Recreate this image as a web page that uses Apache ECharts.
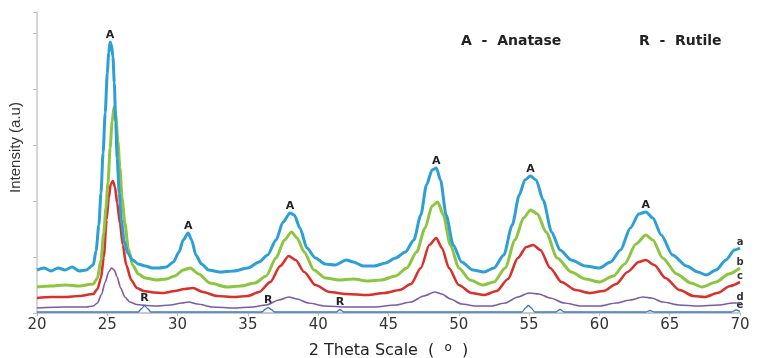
<!DOCTYPE html>
<html>
<head>
<meta charset="utf-8">
<title>XRD patterns</title>
<script src="https://cdn.jsdelivr.net/npm/echarts@6/dist/echarts.min.js"></script>
<style>
  html, body { margin: 0; padding: 0; background: #fff; }
  #chart { width: 757px; height: 358px; }
</style>
</head>
<body>
<div id="chart"></div>
<script>
// Diffraction patterns, [2θ (°), intensity (counts)]
const sampleA = [
  [20, 430], [20.5, 450], [21, 420], [21.5, 450], [22, 430], [22.5, 460], [23, 420], [23.5, 430],
  [24.0, 480], [24.2, 620], [24.4, 880], [24.55, 1200], [24.7, 1600], [24.85, 2000], [25.0, 2400],
  [25.1, 2600], [25.2, 2710], [25.3, 2680], [25.4, 2560], [25.5, 2300], [25.6, 1900], [25.7, 1550],
  [25.85, 1200], [26.0, 930], [26.2, 720], [26.45, 600], [26.8, 530], [27.2, 490],
  [27.7, 470], [28.2, 450], [28.7, 450], [29.2, 460], [29.7, 510], [30.1, 610], [30.4, 730],
  [30.75, 800], [31.0, 730], [31.3, 580], [31.7, 490], [32.2, 430], [33, 410], [34, 420],
  [35, 450], [35.8, 510], [36.4, 580], [37, 730], [37.5, 910], [38.0, 1000], [38.3, 980],
  [38.7, 850], [39.2, 650], [39.8, 550], [40.5, 490], [41.2, 480], [42, 530], [42.5, 510],
  [43.2, 470], [44, 470], [44.8, 500], [45.5, 550], [46.2, 610], [46.8, 730], [47.3, 980],
  [47.7, 1280], [48.1, 1430], [48.4, 1450], [48.7, 1330], [49.1, 980], [49.6, 680], [50.2, 510],
  [51, 430], [51.8, 410], [52.5, 450], [53.2, 580], [53.8, 880], [54.3, 1180], [54.7, 1330],
  [55.1, 1370], [55.5, 1330], [56.0, 1130], [56.6, 810], [57.2, 630], [58, 530], [59, 470],
  [60, 450], [60.8, 510], [61.5, 630], [62.2, 850], [62.8, 990], [63.3, 1010], [63.8, 950],
  [64.4, 780], [65.2, 580], [66.2, 470], [67, 410], [67.6, 380], [68.3, 430], [69, 530],
  [69.6, 630], [70, 650]
];
const sampleB = [
  [20, 260], [21, 270], [22, 280], [23, 270], [24.0, 290], [24.3, 350], [24.55, 530], [24.75, 800],
  [24.9, 1050], [25.05, 1300], [25.2, 1650], [25.35, 1920], [25.48, 2060], [25.6, 1980],
  [25.75, 1720], [25.9, 1450], [26.05, 1150], [26.25, 900], [26.5, 640], [26.8, 480], [27.2, 390],
  [27.7, 350], [28.5, 330], [29.2, 340], [29.8, 370], [30.4, 430], [30.9, 450], [31.5, 390], [32.3, 300],
  [33.5, 260], [34.5, 270], [35.5, 300], [36.3, 370], [37, 550], [37.6, 730], [38.1, 810],
  [38.5, 750], [39, 610], [39.7, 430], [40.5, 350], [41.5, 330], [42.5, 340], [43.5, 320],
  [44.5, 330], [45.5, 370], [46.3, 450], [47, 610], [47.6, 850], [48.1, 1070], [48.5, 1110],
  [48.9, 980], [49.4, 680], [50, 450], [50.8, 330], [51.7, 280], [52.5, 310], [53.3, 450],
  [54, 730], [54.6, 950], [55.1, 1030], [55.6, 990], [56.2, 810], [57, 550], [58, 410],
  [59, 340], [60, 310], [61, 370], [61.8, 490], [62.6, 690], [63.3, 780], [63.8, 730],
  [64.5, 550], [65.5, 390], [66.5, 300], [67.3, 260], [68.3, 310], [69.2, 390], [70, 450]
];
const sampleC = [
  [20, 150], [21, 160], [22, 160], [23, 170], [24.0, 190], [24.3, 240], [24.55, 350], [24.75, 560],
  [24.95, 930], [25.1, 1150], [25.25, 1290], [25.4, 1320], [25.55, 1260], [25.7, 1100], [25.9, 900],
  [26.1, 680], [26.35, 480], [26.7, 330], [27.1, 250], [27.6, 220],
  [28.3, 205], [29, 200], [29.8, 220], [30.5, 240], [31.1, 250], [31.8, 210], [32.8, 170],
  [34, 160], [35, 170], [35.8, 210], [36.6, 310], [37.3, 470], [37.9, 570], [38.4, 530],
  [39, 410], [39.8, 280], [40.8, 210], [42, 190], [43.5, 180], [44.7, 200], [45.8, 230],
  [46.6, 290], [47.3, 450], [47.9, 680], [48.4, 750], [48.8, 650], [49.3, 450], [50, 280],
  [50.9, 200], [51.8, 180], [52.7, 220], [53.5, 340], [54.2, 550], [54.8, 660], [55.3, 680],
  [55.8, 630], [56.5, 450], [57.3, 310], [58.3, 230], [59.3, 200], [60.3, 220], [61.2, 290],
  [62, 410], [62.8, 510], [63.3, 530], [63.9, 480], [64.7, 350], [65.7, 230], [66.7, 170],
  [67.5, 160], [68.4, 200], [69.3, 270], [70, 310]
];
const sampleD = [
  [20, 50], [22, 60], [23.5, 60], [24.0, 70], [24.3, 100], [24.6, 190], [24.85, 310], [25.1, 410],
  [25.3, 450], [25.5, 430], [25.7, 360], [25.95, 250], [26.25, 160], [26.6, 110], [27.1, 85],
  [27.8, 75], [28.5, 70], [29.5, 80], [30.3, 100],
  [30.8, 110], [31.4, 90], [32.5, 60], [34, 50], [35.3, 60], [36.3, 80], [37.2, 130],
  [37.9, 160], [38.5, 140], [39.3, 100], [40.5, 70], [42, 60], [44, 60], [45.5, 80],
  [46.6, 110], [47.5, 170], [48.3, 210], [48.8, 190], [49.4, 140], [50.2, 90], [51.2, 70],
  [52.3, 70], [53.3, 100], [54.2, 160], [55.0, 200], [55.7, 190], [56.5, 150], [57.5, 100],
  [58.7, 70], [60, 70], [61.2, 100], [62.2, 130], [63.1, 160], [63.7, 150], [64.5, 110],
  [65.7, 80], [67, 70], [68.5, 80], [69.5, 100], [70, 100]
];
const sampleE = [
  [20, 10], [27.2, 10], [27.45, 45], [27.65, 75], [27.85, 45], [28.1, 10], [36.0, 10],
  [36.25, 40], [36.45, 55], [36.65, 35], [36.9, 10], [41.3, 10], [41.55, 35], [41.8, 10],
  [54.5, 10], [54.75, 50], [54.95, 75], [55.15, 50], [55.4, 10], [56.9, 10], [57.2, 35],
  [57.5, 10], [63.3, 10], [63.6, 25], [63.9, 10], [69.4, 10], [69.7, 30], [70, 16]
];

// Reflection positions (2θ) that get a phase letter
const anataseAt = [25.2, 30.75, 38.0, 48.4, 55.1, 63.3];
const rutileAt = [27.65, 36.45, 41.55];
const xTicks = { min: 20, max: 70, step: 5 };

const seriesNames = ['a', 'b', 'c', 'd', 'e'];
const seriesColors = ['#2c9fd6', '#8cc540', '#d8302b', '#7b5aa6', '#3b79c6'];

function peakNear(data, x0) {
  let best = null;
  for (const p of data) {
    if (Math.abs(p[0] - x0) <= 0.4 && (!best || p[1] > best[1])) best = p;
  }
  return best;
}

const letterLabel = {
  show: true, position: 'top', distance: 1,
  fontFamily: 'DejaVu Sans', fontWeight: 'bold', fontSize: 11, color: '#222'
};
const endLabel = {
  show: true, position: 'top', distance: 0,
  fontFamily: 'DejaVu Sans', fontWeight: 'bold', fontSize: 10, color: '#333'
};

function marks(data, name, letter, positions) {
  const items = positions.map(x => ({ coord: peakNear(data, x), label: Object.assign({}, letterLabel, { formatter: letter }) }));
  items.push({ coord: data[data.length - 1], label: Object.assign({}, endLabel, { formatter: name }) });
  return {
    symbol: 'circle', symbolSize: 1, silent: true,
    itemStyle: { color: 'rgba(0,0,0,0)' },
    data: items
  };
}

const datasets = [sampleA, sampleB, sampleC, sampleD, sampleE];
const widths = [3, 3, 2.6, 1.6, 1.3];

const series = datasets.map((d, i) => ({
  name: seriesNames[i],
  type: 'line',
  data: d,
  showSymbol: false,
  smooth: 0.25,
  smoothMonotone: 'x',
  lineStyle: { color: seriesColors[i], width: widths[i] },
  itemStyle: { color: seriesColors[i] },
  z: 10 - i,
  markPoint: i === 0 ? marks(d, 'a', 'A', anataseAt)
           : i === 4 ? marks(d, 'e', 'R', rutileAt)
           : marks(d, seriesNames[i], '', [])
})).reverse();

const chart = echarts.init(document.getElementById('chart'), null, { renderer: 'canvas' });
chart.setOption({
  animation: false,
  backgroundColor: '#fff',
  grid: { left: 37, right: 17, top: 12, bottom: 45, outerBoundsMode: 'none', containLabel: false },
  title: [
    { text: 'A  -  Anatase', left: 456, top: 29,
      textStyle: { fontFamily: 'DejaVu Sans', fontWeight: 'bold', fontSize: 14, color: '#222' } },
    { text: 'R  -  Rutile', left: 634, top: 29,
      textStyle: { fontFamily: 'DejaVu Sans', fontWeight: 'bold', fontSize: 14, color: '#222' } }
  ],
  xAxis: {
    type: 'value', min: xTicks.min, max: xTicks.max, interval: xTicks.step,
    name: '2 Theta Scale  (  {s|o}  )', nameLocation: 'middle', nameGap: 29,
    nameTextStyle: {
      fontFamily: 'DejaVu Sans', fontSize: 16, color: '#222',
      rich: { s: { fontFamily: 'DejaVu Sans', fontSize: 12, color: '#222', padding: [0, 0, 6, 0] } }
    },
    axisLine: { lineStyle: { color: '#b8b8b8', width: 1.5 } },
    axisTick: { show: true, length: 3, lineStyle: { color: '#b8b8b8' } },
    axisLabel: { fontFamily: 'DejaVu Sans', fontSize: 15, color: '#333', margin: 5 },
    splitLine: { show: false }
  },
  yAxis: {
    type: 'value', min: 0, max: 3010, interval: 560,
    name: 'Intensity (a.u)', nameLocation: 'middle', nameGap: 14, nameRotate: 90,
    nameTextStyle: { fontFamily: 'Liberation Sans Narrow, Liberation Sans, sans-serif', fontSize: 15, color: '#333', padding: [0, 0, 0, 30] },
    axisLine: { show: true, lineStyle: { color: '#c8c8c8', width: 1.5 } },
    axisTick: { show: true, length: 4, lineStyle: { color: '#c0c0c0' } },
    axisLabel: { show: false },
    splitLine: { show: false }
  },
  series: series
});
</script>
</body>
</html>
